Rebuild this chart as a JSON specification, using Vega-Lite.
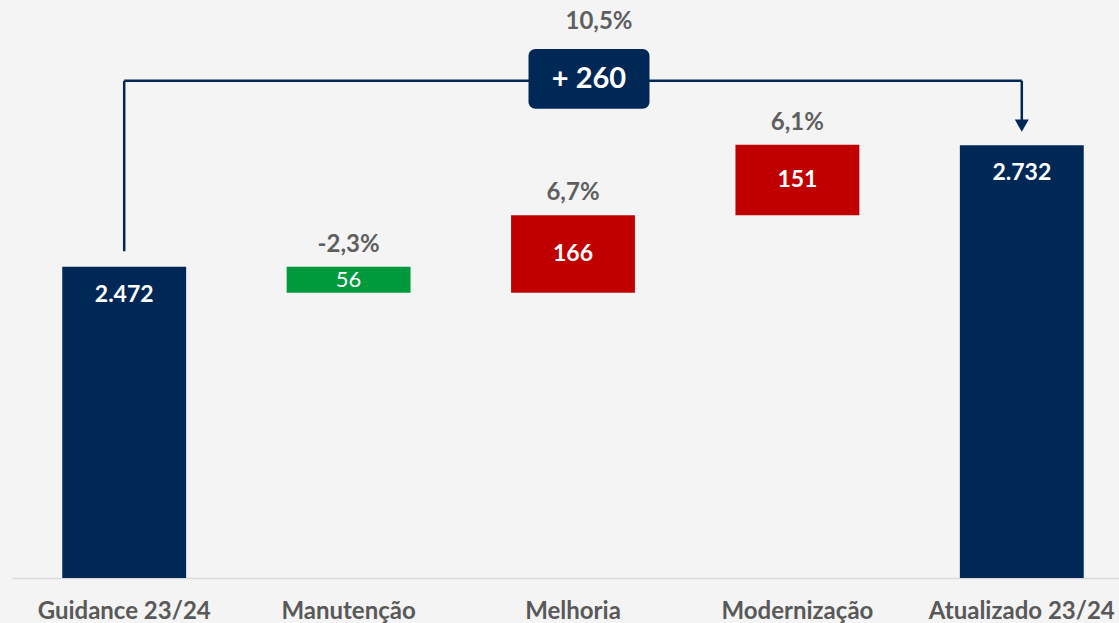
{
  "$schema": "https://vega.github.io/schema/vega-lite/v6.json",
  "autosize": "none",
  "width": 1107,
  "height": 578,
  "padding": {"left": 12, "top": 0, "right": 0, "bottom": 45},
  "background": "#f4f4f4",
  "config": {
    "view": {"stroke": null},
    "text": {"font": "Lato"},
    "axis": {"labelFont": "Lato"}
  },
  "datasets": {
    "steps": [
      {"category": "Guidance 23/24", "start": 0, "end": 2472, "label": "2.472", "pct": null, "type": "total"},
      {"category": "Manutenção", "start": 2416, "end": 2472, "label": "56", "pct": "-2,3%", "type": "decrease"},
      {"category": "Melhoria", "start": 2416, "end": 2582, "label": "166", "pct": "6,7%", "type": "increase"},
      {"category": "Modernização", "start": 2582, "end": 2733, "label": "151", "pct": "6,1%", "type": "increase"},
      {"category": "Atualizado 23/24", "start": 0, "end": 2732, "label": "2.732", "pct": null, "type": "total"}
    ],
    "change": [
      {"from": "Guidance 23/24", "to": "Atualizado 23/24", "mid": "Melhoria", "label": "+ 260", "pct": "10,5%"}
    ]
  },
  "data": {"name": "steps"},
  "encoding": {
    "x": {
      "field": "category", "type": "nominal", "sort": null,
      "scale": {"paddingInner": 0.448, "paddingOuter": 0.224, "range": [0, 1122]},
      "axis": {
        "title": null, "ticks": false, "domainColor": "#d9d9d9", "domainWidth": 1.5,
        "labelAngle": 0, "labelFontSize": 24, "labelFontWeight": "bold", "labelColor": "#595959",
        "labelPadding": 21, "labelOverlap": false, "labelLimit": 400
      }
    }
  },
  "layer": [
    {
      "mark": {"type": "bar"},
      "encoding": {
        "y": {"field": "start", "type": "quantitative", "scale": {"domain": [1805.3, 3043], "clamp": true, "nice": false, "zero": false}, "axis": null},
        "y2": {"field": "end"},
        "color": {"field": "type", "type": "nominal", "legend": null,
          "scale": {"domain": ["total", "decrease", "increase"], "range": ["#002856", "#009a3e", "#c00000"]}}
      }
    },
    {
      "transform": [{"filter": "datum.type == 'total'"}],
      "mark": {"type": "text", "color": "white", "fontSize": 23, "fontWeight": "bold", "baseline": "middle", "dy": 28},
      "encoding": {
        "y": {"field": "end", "type": "quantitative"},
        "text": {"field": "label"}
      }
    },
    {
      "transform": [
        {"filter": "datum.type == 'increase'"},
        {"fold": ["start", "end"], "as": ["edge", "value"]},
        {"aggregate": [{"op": "mean", "field": "value", "as": "middle"}], "groupby": ["category", "label"]}
      ],
      "mark": {"type": "text", "color": "white", "fontSize": 23, "fontWeight": "bold", "baseline": "middle"},
      "encoding": {
        "y": {"field": "middle", "type": "quantitative"},
        "text": {"field": "label"}
      }
    },
    {
      "transform": [
        {"filter": "datum.type == 'decrease'"},
        {"fold": ["start", "end"], "as": ["edge", "value"]},
        {"aggregate": [{"op": "mean", "field": "value", "as": "middle"}], "groupby": ["category", "label"]}
      ],
      "mark": {"type": "text", "color": "white", "fontSize": 22, "fontWeight": "normal", "baseline": "middle"},
      "encoding": {
        "y": {"field": "middle", "type": "quantitative"},
        "text": {"field": "label"}
      }
    },
    {
      "transform": [{"filter": "datum.pct != null"}],
      "mark": {"type": "text", "color": "#5f5f5f", "fontSize": 24, "fontWeight": "bold", "baseline": "alphabetic", "dy": -15},
      "encoding": {
        "y": {"field": "end", "type": "quantitative"},
        "text": {"field": "pct"}
      }
    },
    {
      "data": {"name": "change"},
      "mark": {"type": "rule", "color": "#002856", "strokeWidth": 2.5},
      "encoding": {
        "x": {"field": "from", "type": "nominal"},
        "y": {"datum": 2505},
        "y2": {"datum": 2870}
      }
    },
    {
      "data": {"name": "change"},
      "mark": {"type": "rule", "color": "#002856", "strokeWidth": 2.5},
      "encoding": {
        "x": {"field": "from", "type": "nominal"},
        "x2": {"field": "to"},
        "y": {"datum": 2870}
      }
    },
    {
      "data": {"name": "change"},
      "mark": {"type": "rule", "color": "#002856", "strokeWidth": 2.5},
      "encoding": {
        "x": {"field": "to", "type": "nominal"},
        "y": {"datum": 2870},
        "y2": {"datum": 2778}
      }
    },
    {
      "data": {"name": "change"},
      "mark": {"type": "point", "shape": "triangle-down", "size": 196, "filled": true, "color": "#002856", "opacity": 1},
      "encoding": {
        "x": {"field": "to", "type": "nominal"},
        "y": {"datum": 2774}
      }
    },
    {
      "data": {"name": "change"},
      "mark": {"type": "bar", "color": "#002856", "width": 121, "xOffset": 16, "cornerRadius": 7},
      "encoding": {
        "x": {"field": "mid", "type": "nominal"},
        "y": {"datum": 2938},
        "y2": {"datum": 2810}
      }
    },
    {
      "data": {"name": "change"},
      "mark": {"type": "text", "color": "white", "fontSize": 29, "fontWeight": "bold", "baseline": "middle", "dx": 16},
      "encoding": {
        "x": {"field": "mid", "type": "nominal"},
        "y": {"datum": 2874},
        "text": {"field": "label"}
      }
    },
    {
      "data": {"name": "change"},
      "mark": {"type": "text", "color": "#5f5f5f", "fontSize": 24, "fontWeight": "bold", "baseline": "middle", "dx": 26},
      "encoding": {
        "x": {"field": "mid", "type": "nominal"},
        "y": {"datum": 2996},
        "text": {"field": "pct"}
      }
    }
  ]
}
